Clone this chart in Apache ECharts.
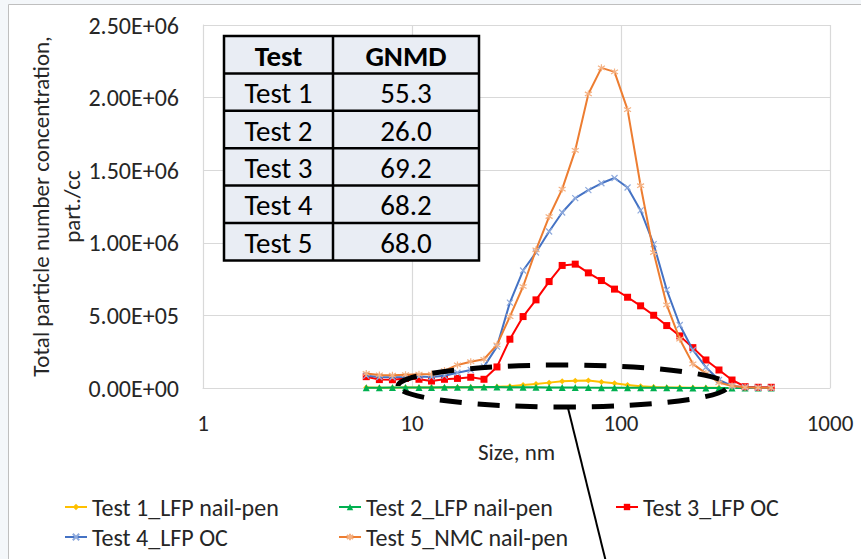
<!DOCTYPE html>
<html>
<head>
<meta charset="utf-8">
<script src="https://cdn.jsdelivr.net/npm/echarts@6/dist/echarts.min.js"></script>
<style>
  html, body { margin: 0; padding: 0; background: #F4F7FA; }
  #chart { width: 861px; height: 559px; }
</style>
</head>
<body>
<div id="chart"></div>
<script>
// Particle size channels (nm), 16 per decade
const sizeNm = [6.04, 6.98, 8.06, 9.31, 10.8, 12.4, 14.3, 16.5, 19.1, 22.1, 25.5, 29.4,
  34.0, 39.2, 45.3, 52.3, 60.4, 69.8, 80.6, 93.1, 107.5, 124.1, 143.3, 165.5,
  191.1, 220.7, 254.8, 294.3, 339.8, 392.4, 453.2, 523.3];

// Number concentration per channel, part./cc
const test1 = [3000, 2500, 2500, 3000, 3000, 3500, 4000, 4500, 5000, 6000, 8000, 12000,
  21000, 28000, 37000, 46000, 50000, 52000, 42000, 32000, 21000, 12000, 7000, 4000,
  3000, 2000, 1500, 1000, 800, 500, 300, 200];
const test2 = [1800, 2200, 2600, 3100, 3600, 4100, 4600, 5200, 5700, 6100, 6300, 5900,
  5300, 4700, 4100, 3600, 3100, 2600, 2200, 1900, 1600, 1300, 1100, 900,
  700, 500, 400, 300, 200, 150, 100, 80];
const test3 = [78000, 58000, 57000, 66000, 60000, 48000, 60000, 66000, 74000, 60000, 145000, 336000,
  492000, 607000, 733000, 844000, 853000, 793000, 740000, 681000, 625000, 566000, 501000, 430000,
  359000, 278000, 193000, 124000, 55000, 9000, 5000, 5000];
const test4 = [85000, 76000, 74000, 76000, 80000, 76000, 84000, 105000, 124000, 147000, 285000, 588000,
  809000, 933000, 1078000, 1209000, 1308000, 1363000, 1410000, 1446000, 1381000, 1223000, 991000, 676000,
  434000, 262000, 143000, 55000, 14000, 5000, 2000, 1000];
const test5 = [100000, 90000, 88000, 92000, 95000, 96000, 120000, 159000, 181000, 198000, 297000, 492000,
  699000, 952000, 1181000, 1370000, 1637000, 2025000, 2205000, 2177000, 1917000, 1393000, 933000, 572000,
  336000, 166000, 101000, 37000, 14000, 5000, 2000, 1000];

const seriesNames = ['Test 1_LFP nail-pen', 'Test 2_LFP nail-pen', 'Test 3_LFP OC',
  'Test 4_LFP OC', 'Test 5_NMC nail-pen'];

// Geometric number mean diameter table
const tableHeader = ['Test', 'GNMD'];
const tableTests = ['Test 1', 'Test 2', 'Test 3', 'Test 4', 'Test 5'];
const tableGNMD = ['55.3', '26.0', '69.2', '68.2', '68.0'];

const FONT = 'Carlito, Lato, "Liberation Sans", sans-serif';
const TXT = '#262626';

const pair = vals => sizeNm.map((d, i) => [d, vals[i]]);

const xMark = 'path://M0,0L10,10M10,0L0,10';
const starMark = 'path://M5,0L5,10M0,2L10,8M0,8L10,2';

function sciLabel(v) {
  const parts = v.toExponential(2).split('e');
  let exp = parseInt(parts[1], 10);
  const sign = exp < 0 ? '-' : '+';
  exp = Math.abs(exp);
  return parts[0] + 'E' + sign + (exp < 10 ? '0' + exp : '' + exp);
}

const seriesDefs = [
  { data: test1, color: '#FFC000', symbol: 'diamond', size: 6, fill: '#FFC000' },
  { data: test2, color: '#00B050', symbol: 'triangle', size: 7, fill: '#00B050' },
  { data: test3, color: '#FF0000', symbol: 'rect', size: 7, fill: '#FF0000' },
  { data: test4, color: '#4472C4', symbol: xMark, size: 6, fill: 'none', border: '#8FAADC' },
  { data: test5, color: '#ED7D31', symbol: starMark, size: 7, fill: 'none', border: '#F4B183' }
];

const series = seriesDefs.map((s, i) => ({
  name: seriesNames[i],
  type: 'line',
  data: pair(s.data),
  symbol: s.symbol,
  symbolSize: s.size,
  showAllSymbol: true,
  lineStyle: { color: s.color, width: 2 },
  itemStyle: s.fill === 'none'
    ? { color: 'rgba(0,0,0,0)', borderColor: s.border, borderWidth: 1.2 }
    : { color: s.fill, borderColor: s.fill, borderWidth: 0 },
  emphasis: { disabled: true },
  animation: false,
  z: 2 + i
}));

function legendFor(name, left, top) {
  return {
    data: [name],
    left: left, top: top,
    itemWidth: 22, itemHeight: 8, itemGap: 5,
    padding: 0,
    textStyle: { fontFamily: FONT, fontSize: 24, color: TXT, lineHeight: 28 }
  };
}

// Table drawn as graphic rectangles and text
const tblLeft = 224, tblMid = 333, tblRight = 479, tblTop = 36, rowH = 37.4;
const tableGraphics = [];
const allRows = [tableHeader].concat(tableTests.map((t, i) => [t, tableGNMD[i]]));
tableGraphics.push({
  type: 'rect', z: 100,
  shape: { x: tblLeft, y: tblTop, width: tblRight - tblLeft, height: rowH * allRows.length },
  style: { fill: '#E9EDF4', stroke: '#000', lineWidth: 2.5 }
});
tableGraphics.push({
  type: 'line', z: 101,
  shape: { x1: tblMid, y1: tblTop, x2: tblMid, y2: tblTop + rowH * allRows.length },
  style: { stroke: '#000', lineWidth: 2.5 }
});
allRows.forEach((row, r) => {
  if (r > 0) {
    tableGraphics.push({
      type: 'line', z: 101,
      shape: { x1: tblLeft, y1: tblTop + rowH * r, x2: tblRight, y2: tblTop + rowH * r },
      style: { stroke: '#000', lineWidth: 2.5 }
    });
  }
  const cy = tblTop + rowH * r + rowH / 2;
  [[(tblLeft + tblMid) / 2, row[0]], [(tblMid + tblRight) / 2, row[1]]].forEach(([cx, txt]) => {
    tableGraphics.push({
      type: 'text', z: 102,
      x: cx, y: cy + 1,
      style: {
        text: txt, fill: '#000', fontFamily: FONT, fontSize: 29,
        fontWeight: r === 0 ? 'bold' : 'normal',
        align: 'center', verticalAlign: 'middle'
      }
    });
  });
});

const option = {
  backgroundColor: '#F4F7FA',
  animation: false,
  grid: { left: 203, right: 31, top: 25, bottom: 171, containLabel: false },
  xAxis: {
    type: 'log', logBase: 10, min: 1, max: 1000,
    name: 'Size, nm', nameLocation: 'middle', nameGap: 52,
    nameTextStyle: { fontFamily: FONT, fontSize: 23, color: TXT },
    axisLine: { show: true, lineStyle: { color: '#D9D9D9', width: 1 } },
    axisTick: { show: false },
    minorTick: { show: false },
    axisLabel: { fontFamily: FONT, fontSize: 23, color: TXT, margin: 23, formatter: v => String(v) },
    splitLine: { show: true, lineStyle: { color: '#D9D9D9', width: 1.2 } }
  },
  yAxis: {
    type: 'value', min: 0, max: 2500000, interval: 500000,
    name: 'Total particle number concentration,\npart./cc',
    nameLocation: 'middle', nameGap: 116, nameRotate: 90, nameMoveOverlap: false,
    nameTextStyle: { fontFamily: FONT, fontSize: 23, color: TXT, lineHeight: 31, align: 'center' },
    axisLine: { show: true, lineStyle: { color: '#D9D9D9', width: 1 } },
    axisTick: { show: false },
    axisLabel: { fontFamily: FONT, fontSize: 24, color: TXT, margin: 24, formatter: sciLabel },
    splitLine: { show: true, lineStyle: { color: '#D9D9D9', width: 1.2 } }
  },
  legend: [
    legendFor(seriesNames[0], 64, 493),
    legendFor(seriesNames[1], 338, 493),
    legendFor(seriesNames[2], 615, 493),
    legendFor(seriesNames[3], 64, 523),
    legendFor(seriesNames[4], 338, 523)
  ],
  series: series,
  graphic: [
    {
      type: 'rect', z: -10, silent: true,
      shape: { x: 8.5, y: 4.5, width: 900, height: 600 },
      style: { fill: '#FFFFFF', stroke: '#BFBFBF', lineWidth: 1 }
    },
    ...tableGraphics,
    {
      type: 'ellipse', z: 110, silent: true,
      shape: { cx: 563, cy: 386, rx: 165, ry: 21 },
      style: { fill: 'none', stroke: '#000', lineWidth: 5, lineDash: [22, 16] }
    },
    {
      type: 'line', z: 110, silent: true,
      shape: { x1: 568, y1: 408, x2: 606, y2: 562 },
      style: { stroke: '#000', lineWidth: 2 }
    }
  ]
};

const chart = echarts.init(document.getElementById('chart'), null, { renderer: 'svg' });
chart.setOption(option);
</script>
</body>
</html>
